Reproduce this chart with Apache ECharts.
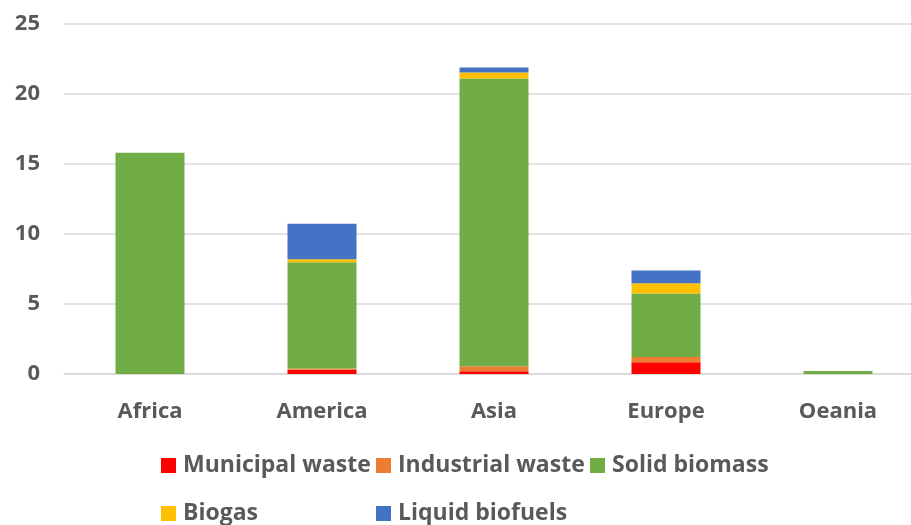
<!DOCTYPE html>
<html>
<head>
<meta charset="utf-8">
<script src="https://cdn.jsdelivr.net/npm/echarts@6/dist/echarts.min.js"></script>
<style>
  html, body { margin: 0; padding: 0; background: #fff; }
  #chart { width: 911px; height: 525px; }
</style>
</head>
<body>
<div id="chart"></div>
<script>
// Bioenergy supply by region, stacked by source
const regions = ['Africa', 'America', 'Asia', 'Europe', 'Oeania'];
const municipalWaste  = [0,    0.30, 0.19, 0.84, 0];
const industrialWaste = [0,    0.10, 0.36, 0.38, 0];
const solidBiomass    = [15.8, 7.58, 20.55, 4.53, 0.22];
const biogas          = [0,    0.21, 0.43, 0.74, 0];
const liquidBiofuels  = [0,    2.55, 0.36, 0.90, 0];

const FONT = '"Open Sans", "Noto Sans", sans-serif';
const TEXT = '#595959';

const seriesDefs = [
  ['Municipal waste', municipalWaste, '#FF0000'],
  ['Industrial waste', industrialWaste, '#ED7D31'],
  ['Solid biomass', solidBiomass, '#70AD47'],
  ['Biogas', biogas, '#FFC000'],
  ['Liquid biofuels', liquidBiofuels, '#4472C4']
];

// legend laid out as a two-row grid: [left, top] for each entry
const legendSlots = [[161, 454], [376, 454], [590, 454], [161, 502], [376, 502]];

const legends = seriesDefs.map((d, i) => ({
  left: legendSlots[i][0],
  top: legendSlots[i][1],
  padding: 0,
  icon: 'rect',
  itemWidth: 15,
  itemHeight: 15,
  selectedMode: false,
  data: [d[0]],
  textStyle: {
    fontFamily: FONT, fontSize: 23, fontWeight: 'bold', color: TEXT,
    padding: [0, 0, 0, 2]
  }
}));

const chart = echarts.init(document.getElementById('chart'), null, { renderer: 'canvas' });
chart.setOption({
  animation: false,
  textStyle: { fontFamily: FONT },
  // the plot area runs a little past the right edge of the canvas
  grid: { left: 64, width: 860, top: 24, height: 350, containLabel: false, outerBoundsMode: 'none' },
  legend: legends,
  xAxis: {
    type: 'category',
    data: regions,
    axisLine: { lineStyle: { color: '#D9D9D9', width: 1.5 } },
    axisTick: { show: false },
    axisLabel: { color: TEXT, fontSize: 22, fontWeight: 'bold', margin: 27, fontFamily: FONT }
  },
  yAxis: {
    type: 'value',
    min: 0, max: 25, interval: 5,
    axisLine: { show: false },
    axisTick: { show: false },
    splitLine: { lineStyle: { color: '#D9D9D9', width: 1.5 } },
    axisLabel: { color: TEXT, fontSize: 22, fontWeight: 'bold', margin: 24, fontFamily: FONT }
  },
  series: seriesDefs.map(([name, values, color]) => ({
    name,
    type: 'bar',
    stack: 'total',
    data: values,
    barWidth: 69,
    itemStyle: { color },
    emphasis: { disabled: true }
  }))
});
</script>
</body>
</html>
